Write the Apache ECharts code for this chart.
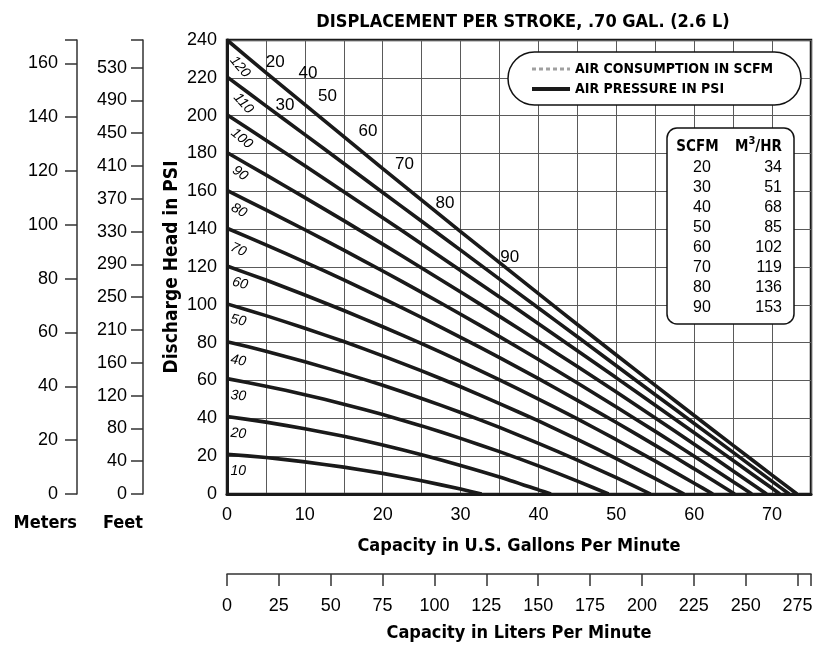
<!DOCTYPE html>
<html>
<head>
<meta charset="utf-8">
<title>Displacement per stroke .70 gal</title>
<script src="https://cdn.jsdelivr.net/npm/echarts@6/dist/echarts.min.js"></script>
<style>
  html, body { margin: 0; padding: 0; background: #fff; }
  #main { width: 822px; height: 647px; }
</style>
</head>
<body>
<div id="main"></div>
<script>
// capacity (U.S. gpm) where the curves were read
var gpmSteps = [0, 5, 10, 15, 20, 25, 30, 35, 40, 45, 50, 55, 60, 65, 70];

// discharge head (psi) on each air pressure curve, read at gpmSteps
var psi10 = [21, 19.3, 17.0, 14.2, 10.9, 7.0, 2.6];
var psi20 = [41, 38.0, 34.5, 30.5, 25.9, 20.8, 15.1, 9.0, 2.2];
var psi30 = [61, 57.0, 52.5, 47.5, 42.0, 36.0, 29.4, 22.4, 14.9, 6.8];
var psi40 = [80.5, 75.5, 69.9, 63.9, 57.5, 50.5, 43.1, 35.2, 26.8, 17.9, 8.6];
var psi50 = [100.5, 94.3, 87.6, 80.6, 73.0, 65.1, 56.7, 47.8, 38.6, 28.9, 18.7, 8.1];
var psi60 = [120.5, 113.1, 105.2, 97.0, 88.4, 79.5, 70.1, 60.3, 50.2, 39.7, 28.7, 17.4, 5.7];
var psi70 = [140.5, 131.7, 122.6, 113.2, 103.4, 93.3, 82.8, 72.1, 61.0, 49.5, 37.8, 25.7, 13.3];
var psi80 = [160.5, 150.2, 139.7, 128.9, 117.9, 106.6, 95.0, 83.2, 71.1, 58.7, 46.0, 33.1, 20.0, 6.5];
var psi90 = [180.5, 168.7, 156.7, 144.5, 132.1, 119.5, 106.8, 93.9, 80.7, 67.4, 53.9, 40.2, 26.3, 12.2];
var psi100 = [200.5, 187.0, 173.5, 159.8, 146.0, 132.2, 118.2, 104.2, 90.0, 75.7, 61.4, 46.9, 32.4, 17.7, 3.0];
var psi110 = [220.5, 205.2, 190.0, 174.7, 159.4, 144.2, 128.9, 113.6, 98.3, 83.1, 67.8, 52.5, 37.3, 22.0, 6.7];
var psi120 = [240, 222.8, 205.8, 188.9, 172.0, 155.3, 138.7, 122.3, 105.9, 89.6, 73.5, 57.4, 41.5, 25.7, 10.0];
// gpm where each curve reaches 0 psi
var curveEnds = [32.7, 41.6, 49, 54.4, 58.7, 62.4, 65.2, 67.4, 69.3, 71, 72.2, 73.2];
var airPressures = [10, 20, 30, 40, 50, 60, 70, 80, 90, 100, 110, 120];

// air consumption table
var scfmSteps = [20, 30, 40, 50, 60, 70, 80, 90];
var m3hr = [34, 51, 68, 85, 102, 119, 136, 153];

// left hand scales
var feetLabels = ['0', '40', '80', '120', '160', '210', '250', '290', '330', '370', '410', '450', '490', '530'];

// where the numbers sit on the chart, in (gpm, psi)
var scfmLabelSpots = [[6.2, 228.2], [7.45, 205.3], [10.4, 222.4], [12.9, 210.3], [18.1, 191.8], [22.8, 174.1], [28, 153.8], [36.3, 125.2]];
var psiLabelSpots = [[1.45, 12.2], [1.45, 31.9], [1.45, 51.9], [1.45, 70.5], [1.45, 91.7], [1.67, 111.3], [1.45, 129.1], [1.54, 149.9], [1.67, 169.5], [1.89, 187.9], [2.09, 206.5], [1.67, 225.8]];
var psiLabelTilt = [0, -5, -5, -10, -12, -15, -25, -30, -35, -40, -48, -50];

var NARROW = "'Liberation Sans Narrow', 'DejaVu Sans Condensed', 'Arial Narrow', sans-serif";
var REGULAR = "'Liberation Sans', Arial, sans-serif";

var chart = echarts.init(document.getElementById('main'));

var psiCurves = [psi10, psi20, psi30, psi40, psi50, psi60, psi70, psi80, psi90, psi100, psi110, psi120];
var series = psiCurves.map(function (vals, i) {
    var pts = vals.map(function (v, j) { return [gpmSteps[j], v]; });
    pts.push([curveEnds[i], 0]);
    return {
        name: 'AIR PRESSURE IN PSI',
        type: 'line',
        data: pts,
        symbol: 'none',
        smooth: 0.2,
        lineStyle: { color: '#1a1a1a', width: 3.6 },
        z: 3
    };
});

// only here for the legend, the consumption lines are not drawn
series.push({
    name: 'AIR CONSUMPTION IN SCFM',
    type: 'line',
    data: [],
    symbol: 'none',
    lineStyle: { color: '#a0a0a0', width: 3, type: [4, 3] }
});

var labelItem = { opacity: 1, color: 'rgba(0,0,0,0)' };

series.push({
    name: 'scfm',
    type: 'scatter',
    symbolSize: 0,
    silent: true,
    z: 5,
    itemStyle: labelItem,
    data: scfmLabelSpots.map(function (p, i) { return [p[0], p[1], scfmSteps[i]]; }),
    label: {
        show: true,
        position: 'inside',
        formatter: function (p) { return p.value[2]; },
        color: '#000',
        opacity: 1,
        fontSize: 17,
        fontFamily: REGULAR
    }
});

series.push({
    name: 'psi',
    type: 'scatter',
    symbolSize: 0,
    silent: true,
    z: 5,
    itemStyle: labelItem,
    data: psiLabelSpots.map(function (p, i) {
        return { value: [p[0], p[1], airPressures[i]], label: { rotate: psiLabelTilt[i] } };
    }),
    label: {
        show: true,
        position: 'inside',
        formatter: function (p) { return p.value[2]; },
        color: '#000',
        opacity: 1,
        fontSize: 14,
        fontStyle: 'italic',
        fontFamily: REGULAR
    }
});

var tableLines = ['{hc1|SCFM}{gap|}{hm|M}{sup|3}{hm|/HR}'];
scfmSteps.forEach(function (s, i) {
    tableLines.push('{c1|' + s + '}{c2|' + m3hr[i] + '}');
});

var option = {
    animation: false,
    backgroundColor: '#fff',
    title: [{
        text: 'DISPLACEMENT PER STROKE, .70 GAL. (2.6 L)',
        left: 518,
        top: 8,
        textAlign: 'center',
        textStyle: { fontFamily: NARROW, fontWeight: 'bold', fontSize: 18, color: '#000' }
    }, {
        text: tableLines.join('\n'),
        left: 667,
        top: 128,
        padding: [8, 12, 8, 10],
        backgroundColor: '#fff',
        borderColor: '#111',
        borderWidth: 1.5,
        borderRadius: 10,
        textStyle: {
            fontWeight: 'normal',
            rich: {
                hc1: { width: 41, align: 'center', fontFamily: NARROW, fontWeight: 'bold', fontSize: 15, lineHeight: 22, color: '#000' },
                gap: { width: 17 },
                hm: { fontFamily: NARROW, fontWeight: 'bold', fontSize: 15, lineHeight: 22, color: '#000' },
                sup: { fontFamily: NARROW, fontWeight: 'bold', fontSize: 11, verticalAlign: 'top', lineHeight: 22, color: '#000' },
                c1: { width: 41, align: 'center', fontFamily: REGULAR, fontWeight: 'normal', fontSize: 16, lineHeight: 20, color: '#000' },
                c2: { width: 55, align: 'right', fontFamily: REGULAR, fontWeight: 'normal', fontSize: 16, lineHeight: 20, color: '#000' }
            }
        }
    }],
    legend: {
        data: [{
            name: 'AIR CONSUMPTION IN SCFM',
            lineStyle: { color: '#a0a0a0', width: 3, type: [4, 3], opacity: 1 }
        }, {
            name: 'AIR PRESSURE IN PSI',
            lineStyle: { color: '#1a1a1a', width: 4, opacity: 1 }
        }],
        orient: 'vertical',
        left: 508,
        top: 52,
        padding: [10, 28, 9, 22],
        itemGap: 6,
        itemWidth: 38,
        itemHeight: 14,
        selectedMode: false,
        itemStyle: { opacity: 0 },
        backgroundColor: '#fff',
        borderColor: '#111',
        borderWidth: 1.5,
        borderRadius: 27,
        textStyle: { fontFamily: NARROW, fontWeight: 'bold', fontSize: 14, color: '#000' }
    },
    grid: {
        left: 227,
        top: 40,
        width: 584,
        height: 454,
        show: true,
        borderColor: '#1a1a1a',
        borderWidth: 2.5
    },
    xAxis: [{
        type: 'value',
        min: 0,
        max: 75,
        interval: 5,
        position: 'bottom',
        name: 'Capacity in U.S. Gallons Per Minute',
        nameLocation: 'middle',
        nameGap: 43,
        nameTextStyle: { fontFamily: NARROW, fontWeight: 'bold', fontSize: 18, color: '#000' },
        axisLine: { onZero: false, lineStyle: { color: '#1a1a1a', width: 3 } },
        axisTick: { show: false },
        axisLabel: {
            margin: 12,
            fontSize: 18,
            fontFamily: REGULAR,
            color: '#000',
            formatter: function (v) { return v % 10 === 0 ? v : ''; }
        },
        splitLine: { show: true, lineStyle: { color: '#5a5a5a', width: 1 } }
    }, {
        type: 'value',
        min: 0,
        max: 281.5,
        interval: 25,
        position: 'bottom',
        offset: 80,
        name: 'Capacity in Liters Per Minute',
        nameLocation: 'middle',
        nameGap: 50,
        nameTextStyle: { fontFamily: NARROW, fontWeight: 'bold', fontSize: 18, color: '#000' },
        axisLine: { show: true, onZero: false, lineStyle: { color: '#333', width: 1.5 } },
        axisTick: { show: true, inside: false, length: 12, lineStyle: { color: '#333', width: 1.5 } },
        axisLabel: {
            margin: 23,
            fontSize: 18,
            fontFamily: REGULAR,
            color: '#000',
            formatter: function (v) { return v % 25 === 0 ? v : ''; }
        },
        splitLine: { show: false }
    }],
    yAxis: [{
        type: 'value',
        min: 0,
        max: 240,
        interval: 20,
        position: 'left',
        name: 'Discharge Head in PSI',
        nameLocation: 'middle',
        nameGap: 45,
        nameMoveOverlap: false,
        nameTextStyle: { fontFamily: NARROW, fontWeight: 'bold', fontSize: 19, color: '#000' },
        axisLine: { onZero: false, lineStyle: { color: '#1a1a1a', width: 3 } },
        axisTick: { show: false },
        axisLabel: { margin: 10, fontSize: 18, fontFamily: REGULAR, color: '#000' },
        splitLine: { show: true, lineStyle: { color: '#5a5a5a', width: 1 } }
    }, {
        type: 'value',
        min: 0,
        max: 553.6,
        interval: 40,
        position: 'left',
        offset: 84,
        name: 'Feet',
        nameLocation: 'start',
        nameGap: 20,
        nameTextStyle: { fontFamily: NARROW, fontWeight: 'bold', fontSize: 18, color: '#000', align: 'right', verticalAlign: 'top' },
        axisLine: { show: true, onZero: false, lineStyle: { color: '#333', width: 1.5 } },
        axisTick: { show: true, inside: false, length: 12, lineStyle: { color: '#333', width: 1.5 } },
        axisLabel: {
            margin: 16,
            fontSize: 18,
            fontFamily: REGULAR,
            color: '#000',
            padding: [0, 0, 6, 0],
            formatter: function (v) {
                var k = Math.round(v / 40);
                return Math.abs(v - k * 40) < 0.01 && feetLabels[k] !== undefined ? feetLabels[k] : '';
            }
        },
        splitLine: { show: false }
    }, {
        type: 'value',
        min: 0,
        max: 168.7,
        interval: 20,
        position: 'left',
        offset: 150,
        name: 'Meters',
        nameLocation: 'start',
        nameGap: 20,
        nameTextStyle: { fontFamily: NARROW, fontWeight: 'bold', fontSize: 18, color: '#000', align: 'right', verticalAlign: 'top' },
        axisLine: { show: true, onZero: false, lineStyle: { color: '#333', width: 1.5 } },
        axisTick: { show: true, inside: false, length: 12, lineStyle: { color: '#333', width: 1.5 } },
        axisLabel: {
            margin: 19,
            fontSize: 18,
            fontFamily: REGULAR,
            color: '#000',
            padding: [0, 0, 6, 0],
            formatter: function (v) { return v % 20 === 0 ? v : ''; }
        },
        splitLine: { show: false }
    }],
    series: series
};

chart.setOption(option);
</script>
</body>
</html>
